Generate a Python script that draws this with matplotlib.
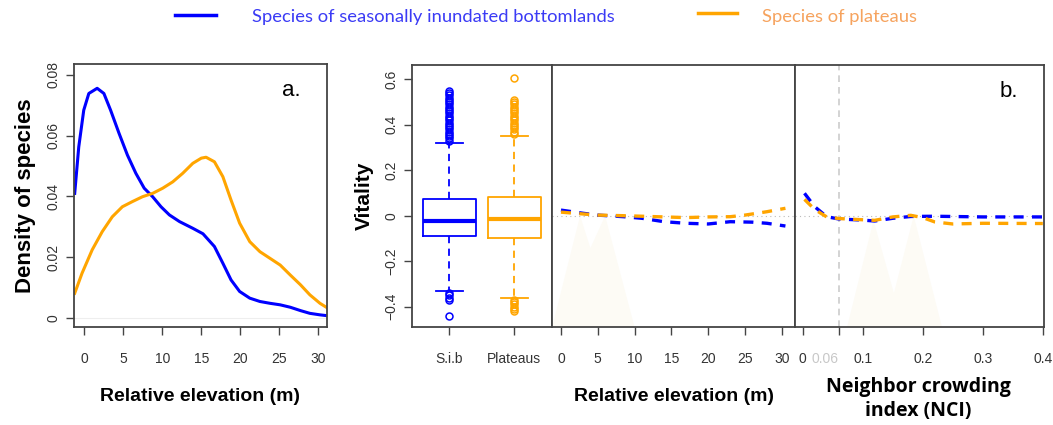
import matplotlib
matplotlib.use("Agg")
import matplotlib.pyplot as plt
from matplotlib.lines import Line2D

BLUE = "#0000FF"
ORANGE = "#FFA500"

# panel a: density of species along relative elevation
elev_blue = [-1.24, -0.72, -0.08, 0.57, 1.64, 2.5, 3.36, 4.44, 5.52, 6.6, 7.67,
             8.75, 9.82, 10.9, 12.2, 13.9, 15.2, 16.67, 17.75, 18.8, 19.9, 21.2,
             22.5, 23.8, 25.1, 26.4, 27.7, 28.9, 30.2, 31.2]
dens_blue = [0.041, 0.0563, 0.0684, 0.0739, 0.0756, 0.0739, 0.0684, 0.0608,
             0.0536, 0.0476, 0.0427, 0.0399, 0.0366, 0.0339, 0.0317, 0.0295,
             0.0277, 0.0235, 0.018, 0.0125, 0.0087, 0.0065, 0.0054, 0.0048,
             0.0043, 0.0035, 0.0024, 0.0015, 0.001, 0.0007]
elev_orange = [-1.24, -0.3, 1.0, 2.29, 3.58, 4.87, 6.16, 7.45, 8.75, 10.04,
               11.33, 12.6, 13.9, 14.99, 15.6, 16.67, 17.75, 18.8, 19.9, 21.2,
               22.5, 23.8, 25.1, 26.4, 27.7, 28.9, 30.2, 31.2]
dens_orange = [0.0081, 0.0147, 0.0224, 0.0284, 0.0333, 0.0366, 0.0383, 0.0399,
               0.041, 0.0427, 0.0448, 0.0476, 0.0509, 0.0526, 0.0529, 0.0514,
               0.0465, 0.0388, 0.0312, 0.0251, 0.0218, 0.0196, 0.0174, 0.0141,
               0.0109, 0.0076, 0.0048, 0.0032]

# boxplots of vitality
box_labels = ["S.i.b", "Plateaus"]
box_q1 = [-0.088, -0.097]
box_med = [-0.023, -0.016]
box_q3 = [0.074, 0.084]
box_whislo = [-0.331, -0.36]
box_whishi = [0.321, 0.35]
fliers_sib = [0.33, 0.34, 0.35, 0.36, 0.37, 0.38, 0.39, 0.40, 0.41, 0.42, 0.43,
              0.44, 0.45, 0.46, 0.47, 0.48, 0.49, 0.50, 0.51, 0.52, 0.53, 0.54,
              0.55, -0.34, -0.35, -0.36, -0.37, -0.44]
fliers_plat = [0.36, 0.37, 0.38, 0.39, 0.40, 0.41, 0.42, 0.43, 0.44, 0.45, 0.46,
               0.47, 0.48, 0.49, 0.50, 0.51, 0.605, -0.37, -0.38, -0.39, -0.40,
               -0.41, -0.42]

# vitality vs relative elevation
rel_x_blue = [0, 3, 5, 8.5, 11, 14, 17, 20, 23, 26, 28, 30.5]
rel_y_blue = [0.025, 0.011, 0.003, -0.004, -0.011, -0.026, -0.033, -0.036,
              -0.026, -0.028, -0.033, -0.045]
rel_x_orange = [0, 3, 5, 9, 12, 14, 17, 20, 23, 25, 28, 30.5]
rel_y_orange = [0.016, 0.008, 0.003, 0.0, -0.003, -0.005, -0.008, -0.005,
                -0.004, 0.003, 0.018, 0.033]
rel_shade_x = [-1.2, 2.6, 4.0, 6.0, 10.0]
rel_shade_y = [-0.489, 0.0, -0.142, 0.0, -0.489]

# vitality vs NCI
nci_x_blue = [0.003, 0.02, 0.04, 0.06, 0.1, 0.12, 0.15, 0.18, 0.22, 0.3, 0.4]
nci_y_blue = [0.099, 0.04, -0.004, -0.014, -0.019, -0.023, -0.011, -0.003,
              -0.002, -0.005, -0.005]
nci_x_orange = [0.003, 0.02, 0.04, 0.06, 0.08, 0.12, 0.15, 0.18, 0.2, 0.22,
                0.25, 0.3, 0.4]
nci_y_orange = [0.072, 0.028, -0.005, -0.012, -0.015, -0.02, -0.005, 0.002,
                -0.008, -0.027, -0.036, -0.033, -0.034]
nci_shade_x = [0.074, 0.118, 0.152, 0.185, 0.232]
nci_shade_y = [-0.489, -0.02, -0.34, 0.0, -0.489]
nci_threshold = 0.06

plt.rcParams["font.family"] = ["Liberation Sans", "DejaVu Sans"]
TICK_COLOR = "#333333"
SPINE_COLOR = "#444444"
SHADE = "#FDFBF5"

fig = plt.figure(figsize=(10.53, 4.25), dpi=100)
W, H = 1053.0, 425.0


def add_ax(x0, y0, x1, y1):
    return fig.add_axes([x0 / W, 1 - y1 / H, (x1 - x0) / W, (y1 - y0) / H])


def style(ax):
    for s in ax.spines.values():
        s.set_color(SPINE_COLOR)
        s.set_linewidth(1.3)
    ax.tick_params(direction="out", length=6, width=1, colors=SPINE_COLOR,
                   labelcolor=TICK_COLOR, labelsize=10)


# ---- panel a ----
ax_a = add_ax(74, 64, 327, 327)
ax_a.plot(elev_blue, dens_blue, color=BLUE, lw=2.2)
ax_a.plot(elev_orange, dens_orange, color=ORANGE, lw=2.2)
ax_a.axhline(0, color="#eeeeee", lw=0.8, zorder=0)
ax_a.set_xlim(-1.33, 31.1)
ax_a.set_ylim(-0.003, 0.0836)
ax_a.set_xticks([0, 5, 10, 15, 20, 25, 30])
ax_a.set_yticks([0, 0.02, 0.04, 0.06, 0.08])
ax_a.set_yticklabels(["0", "0.02", "0.04", "0.06", "0.08"], rotation=90, va="center")
style(ax_a)
ax_a.tick_params(axis="x", pad=12)
ax_a.set_xlabel("Relative elevation (m)", fontsize=14, fontweight="bold", labelpad=16)
ax_a.set_ylabel("Density of species", fontsize=16, fontweight="bold", labelpad=8)
ax_a.text(0.86, 0.9, "a.", transform=ax_a.transAxes, fontsize=16, ha="center", va="center")

# ---- boxplots ----
ax_b = add_ax(412, 65, 552, 327)
stats = []
fliers_all = [fliers_sib, fliers_plat]
for i in range(2):
    stats.append(dict(label=box_labels[i], q1=box_q1[i], med=box_med[i],
                      q3=box_q3[i], whislo=box_whislo[i], whishi=box_whishi[i],
                      fliers=fliers_all[i]))
for i, c in enumerate([BLUE, ORANGE]):
    ax_b.bxp([stats[i]], positions=[i + 1], widths=0.81, showfliers=True,
             boxprops=dict(color=c, lw=1.3),
             medianprops=dict(color=c, lw=3),
             whiskerprops=dict(color=c, lw=1.3, linestyle=(0, (4, 3))),
             capprops=dict(color=c, lw=1.3),
             capwidths=0.42,
             flierprops=dict(marker="o", markerfacecolor="none",
                             markeredgecolor=c, markersize=5, markeredgewidth=1.1))
ax_b.set_xlim(0.426, 2.58)
ax_b.set_ylim(-0.489, 0.663)
ax_b.set_xticks([1, 2])
ax_b.set_xticklabels(box_labels)
ax_b.set_yticks([-0.4, -0.2, 0, 0.2, 0.4, 0.6])
ax_b.set_yticklabels(["\u22120.4", "\u22120.2", "0", "0.2", "0.4", "0.6"],
                     rotation=90, va="center")
style(ax_b)
ax_b.tick_params(axis="x", pad=12)
ax_b.set_ylabel("Vitality", fontsize=15, fontweight="bold", labelpad=8)

# ---- vitality vs relative elevation ----
ax_c = add_ax(552, 65, 795, 327)
ax_c.fill(rel_shade_x, rel_shade_y, color=SHADE, lw=0, zorder=0)
ax_c.axhline(0, color="#bbbbbb", lw=0.8, linestyle=(0, (1, 3)), zorder=1)
ax_c.plot(rel_x_blue, rel_y_blue, color=BLUE, lw=2.4, linestyle=(0, (3, 2.5)))
ax_c.plot(rel_x_orange, rel_y_orange, color=ORANGE, lw=2.4, linestyle=(0, (3, 2.5)))
ax_c.set_xlim(-1.22, 31.8)
ax_c.set_ylim(-0.489, 0.663)
ax_c.set_xticks([0, 5, 10, 15, 20, 25, 30])
ax_c.set_yticks([])
style(ax_c)
ax_c.tick_params(axis="x", pad=12)
ax_c.set_xlabel("Relative elevation (m)", fontsize=14, fontweight="bold", labelpad=16)

# ---- vitality vs NCI ----
ax_d = add_ax(795, 65, 1044, 327)
ax_d.fill(nci_shade_x, nci_shade_y, color=SHADE, lw=0, zorder=0)
ax_d.axhline(0, color="#bbbbbb", lw=0.8, linestyle=(0, (1, 3)), zorder=1)
ax_d.axvline(nci_threshold, color="#cccccc", lw=1.2, linestyle=(0, (4, 3)), zorder=1)
ax_d.plot(nci_x_blue, nci_y_blue, color=BLUE, lw=2.4, linestyle=(0, (3, 2.5)))
ax_d.plot(nci_x_orange, nci_y_orange, color=ORANGE, lw=2.4, linestyle=(0, (3, 2.5)))
ax_d.set_xlim(-0.0128, 0.402)
ax_d.set_ylim(-0.489, 0.663)
ax_d.set_xticks([0, nci_threshold, 0.1, 0.2, 0.3, 0.4])
ax_d.set_xticklabels(["0", "0.06", "0.1", "0.2", "0.3", "0.4"])
ax_d.set_yticks([])
style(ax_d)
ax_d.tick_params(axis="x", pad=12)
ax_d.get_xticklabels()[1].set_color("#c8c8c8")
ax_d.get_xticklabels()[1].set_ha("right")
ax_d.text(0.86, 0.9, "b.", transform=ax_d.transAxes, fontsize=16, ha="center", va="center")
fig.text(918 / W, 1 - 399 / H, "Neighbor crowding\nindex (NCI)", ha="center", va="center",
         fontsize=14, fontweight="bold", family=["Open Sans", "DejaVu Sans"],
         linespacing=1.3)

# ---- legend at the top ----
fig.add_artist(Line2D([175 / W, 216 / W], [1 - 15 / H, 1 - 15 / H], color=BLUE, lw=2.5))
fig.text(252 / W, 1 - 17 / H, "Species of seasonally inundated bottomlands",
         color="#3B3BF5", fontsize=13.2, va="center", ha="left",
         family=["Lato", "DejaVu Sans"])
fig.add_artist(Line2D([698 / W, 737 / W], [1 - 13 / H, 1 - 13 / H], color=ORANGE, lw=2.5))
fig.text(762 / W, 1 - 17 / H, "Species of plateaus",
         color="#F6A35E", fontsize=13.2, va="center", ha="left",
         family=["Lato", "DejaVu Sans"])

fig.savefig("out.png", dpi=100)
